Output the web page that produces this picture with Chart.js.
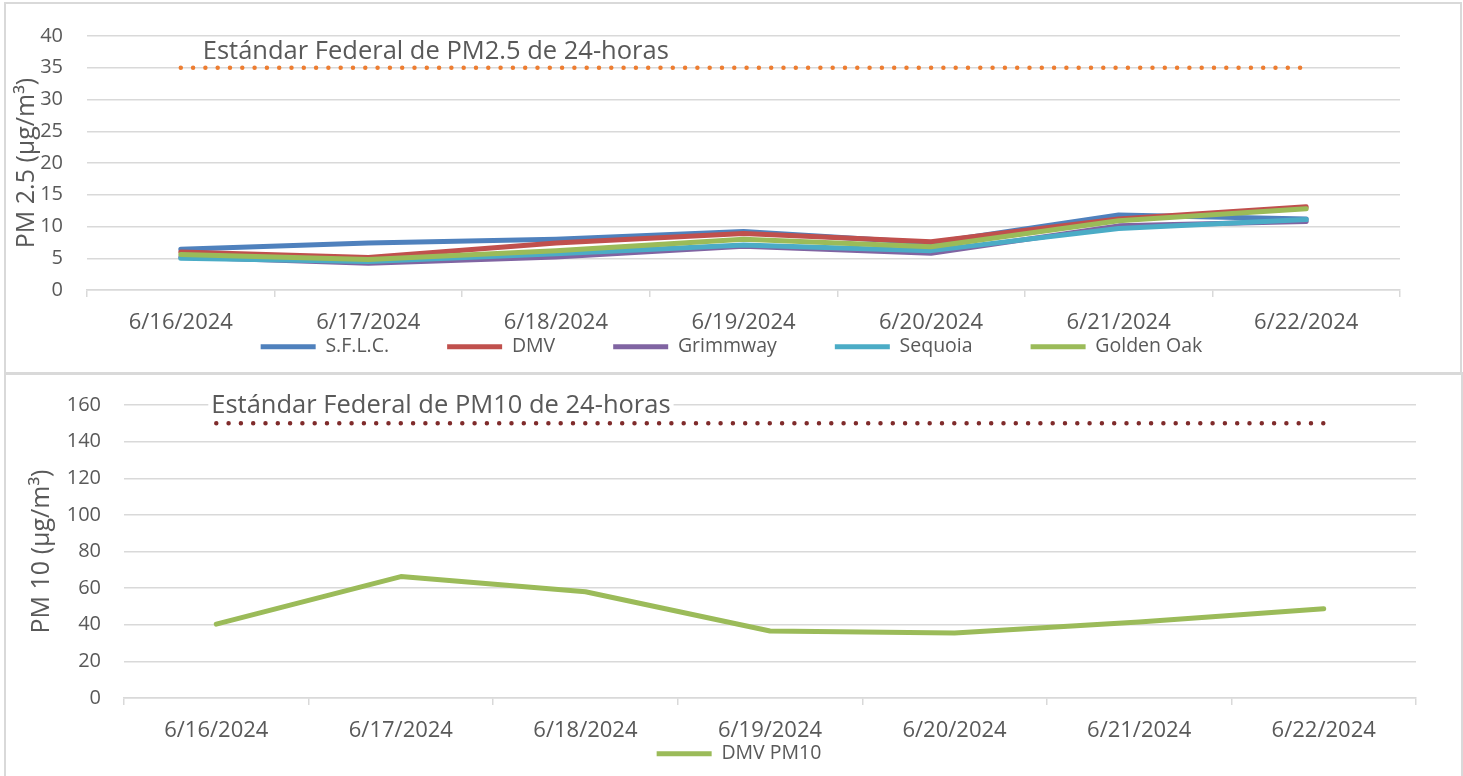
<!DOCTYPE html>
<html>
<head>
<meta charset="utf-8">
<script src="https://cdn.jsdelivr.net/npm/chart.js@4.4.1/dist/chart.umd.min.js"></script>
<style>
  html, body { margin:0; padding:0; background:#ffffff; }
  body { width:1463px; height:776px; position:relative; overflow:hidden; }
  .frame { position:absolute; box-sizing:border-box; border:2px solid #d9d9d9; }
  canvas { position:absolute; }
</style>
</head>
<body>
<div class="frame" style="left:4px; top:2px; width:1458px; height:373px;"></div>
<div class="frame" style="left:4px; top:372px; width:1459px; height:410px;"></div>
<canvas id="pm25" width="1450" height="366" style="left:8px; top:5px;"></canvas>
<canvas id="pm10" width="1450" height="400" style="left:8px; top:376px;"></canvas>
<script>
// ---------- data ----------
const categories = ['6/16/2024', '6/17/2024', '6/18/2024', '6/19/2024', '6/20/2024', '6/21/2024', '6/22/2024'];

const sflc      = [6.4, 7.4, 8.0, 9.2, 7.4, 11.8, 11.2];
const dmv       = [6.0, 5.1, 7.4, 8.9, 7.6, 11.2, 13.1];
const grimmway  = [5.2, 4.2, 5.2, 6.9, 5.8, 10.1, 10.8];
const sequoia   = [5.0, 4.5, 5.7, 7.1, 6.2, 9.7, 11.1];
const goldenOak = [5.6, 4.8, 6.2, 8.0, 6.8, 10.9, 12.8];
const pm25Standard = [35, 35, 35, 35, 35, 35, 35];

const dmvPm10 = [40.3, 66.3, 58.0, 36.6, 35.5, 41.5, 48.8];
const pm10Standard = [150, 150, 150, 150, 150, 150, 150];

const pm25Axis = { min: 0, max: 40, step: 5 };
const pm10Axis = { min: 0, max: 160, step: 20 };

const pm25Title = 'PM 2.5 (µg/m³)';
const pm10Title = 'PM 10 (µg/m³)';
const pm25StandardText = 'Estándar Federal de PM2.5 de 24-horas';
const pm10StandardText = 'Estándar Federal de PM10 de 24-horas';

// ---------- styling ----------
const FONT = "'Open Sans', 'DejaVu Sans', sans-serif";
const TEXT = '#595959';
const GRID = '#d9d9d9';
Chart.defaults.font.family = FONT;
Chart.defaults.color = TEXT;

const standardLabel = {
  id: 'standardLabel',
  beforeDatasetsDraw(chart, args, opts) {
    if (!opts || !opts.text) return;
    const ctx = chart.ctx;
    const xs = chart.scales.x, ys = chart.scales.y;
    const px = xs.getPixelForValue(0) + opts.dx;
    const py = ys.getPixelForValue(opts.value) + opts.dy;
    ctx.save();
    ctx.font = opts.size + 'px ' + FONT;
    ctx.textAlign = 'left';
    ctx.textBaseline = 'middle';
    if (opts.background) {
      const w = ctx.measureText(opts.text).width;
      ctx.fillStyle = opts.background;
      ctx.fillRect(px - 3, py - opts.size * 0.5, w + 6, opts.size * 1.0);
    }
    ctx.fillStyle = opts.color;
    ctx.fillText(opts.text, px, py);
    ctx.restore();
  }
};

function seriesDataset(label, data, color, order) {
  return {
    label, data, order,
    borderColor: color, backgroundColor: color,
    borderWidth: 5, pointRadius: 0, pointHoverRadius: 0,
    tension: 0, borderCapStyle: 'round', borderJoinStyle: 'round', fill: false
  };
}
function standardDataset(label, data, color) {
  return {
    label, data, order: 0, isStandard: true,
    borderColor: color, backgroundColor: color,
    borderWidth: 4.5, borderDash: [0, 12.3], borderCapStyle: 'round',
    pointRadius: 0, pointHoverRadius: 0, tension: 0, fill: false
  };
}

function buildOptions(cfg) {
  return {
    responsive: false,
    animation: false,
    events: [],
    layout: { autoPadding: false, padding: { left: cfg.padLeft, right: cfg.padRight, top: cfg.padTop, bottom: cfg.padBottom } },
    scales: {
      x: {
        type: 'category',
        offset: true,
        grid: { offset: true, drawOnChartArea: false, drawTicks: true, tickLength: 7, color: GRID, lineWidth: 1.5 },
        border: { display: true, color: GRID, width: 1.5 },
        ticks: { padding: 13, font: { size: 22 }, color: TEXT, maxRotation: 0, autoSkip: false },
        afterFit: s => { s.height = 44; }
      },
      y: {
        min: cfg.axis.min, max: cfg.axis.max,
        ticks: { stepSize: cfg.axis.step, padding: 0, font: { size: 20 }, color: TEXT },
        grid: { color: GRID, lineWidth: 1.5, drawTicks: true, tickLength: cfg.tickGap, tickColor: 'rgba(0,0,0,0)' },
        border: { display: false },
        title: { display: true, text: cfg.yTitle, font: { size: 25 }, color: TEXT, padding: { top: 0, bottom: 0 } },
        afterFit: s => { s.width = cfg.yWidth; }
      },
      yPad: {
        type: 'linear', position: 'right', display: true,
        ticks: { display: false }, grid: { display: false }, border: { display: false },
        afterFit: s => { s.width = cfg.rightWidth; }
      }
    },
    plugins: {
      legend: {
        position: 'bottom', fullSize: true, align: 'center',
        title: { display: true, text: '', font: { size: 10 }, padding: { top: cfg.legendTitlePad, bottom: 0 } },
        labels: {
          usePointStyle: true, pointStyle: 'line', pointStyleWidth: 55,
          padding: 58, font: { size: 19.5 }, color: TEXT,
          filter: (item, data) => !data.datasets[item.datasetIndex].isStandard,
          sort: (a, b) => a.datasetIndex - b.datasetIndex
        }
      },
      tooltip: { enabled: false },
      standardLabel: cfg.standard
    }
  };
}

new Chart(document.getElementById('pm25'), {
  type: 'line',
  data: {
    labels: categories,
    datasets: [
      seriesDataset('S.F.L.C.', sflc, '#4F81BD', 5),
      seriesDataset('DMV', dmv, '#C0504D', 4),
      seriesDataset('Grimmway', grimmway, '#8064A2', 3),
      seriesDataset('Sequoia', sequoia, '#4BACC6', 2),
      seriesDataset('Golden Oak', goldenOak, '#9BBB59', 1),
      standardDataset('PM2.5 standard', pm25Standard, '#ED7D31')
    ]
  },
  options: buildOptions({
    axis: pm25Axis, yTitle: pm25Title,
    padLeft: 4, yWidth: 75, tickGap: 24,
    padRight: 7, rightWidth: 51,
    padTop: 31, padBottom: 4.5,
    legendTitlePad: -67,
    standard: { text: pm25StandardText, value: pm25Standard[0], dx: 22, dy: -16, size: 25.5, color: TEXT, background: null }
  }),
  plugins: [standardLabel]
});

new Chart(document.getElementById('pm10'), {
  type: 'line',
  data: {
    labels: categories,
    datasets: [
      seriesDataset('DMV PM10', dmvPm10, '#9BBB59', 1),
      standardDataset('PM10 standard', pm10Standard, '#7F2B2B')
    ]
  },
  options: buildOptions({
    axis: pm10Axis, yTitle: pm10Title,
    padLeft: 19, yWidth: 97, tickGap: 23,
    padRight: 7, rightWidth: 35,
    padTop: 29, padBottom: 2.5,
    legendTitlePad: -68,
    standard: { text: pm10StandardText, value: pm10Standard[0], dx: -5, dy: -18, size: 25.5, color: TEXT, background: '#ffffff' }
  }),
  plugins: [standardLabel]
});
</script>
</body>
</html>
